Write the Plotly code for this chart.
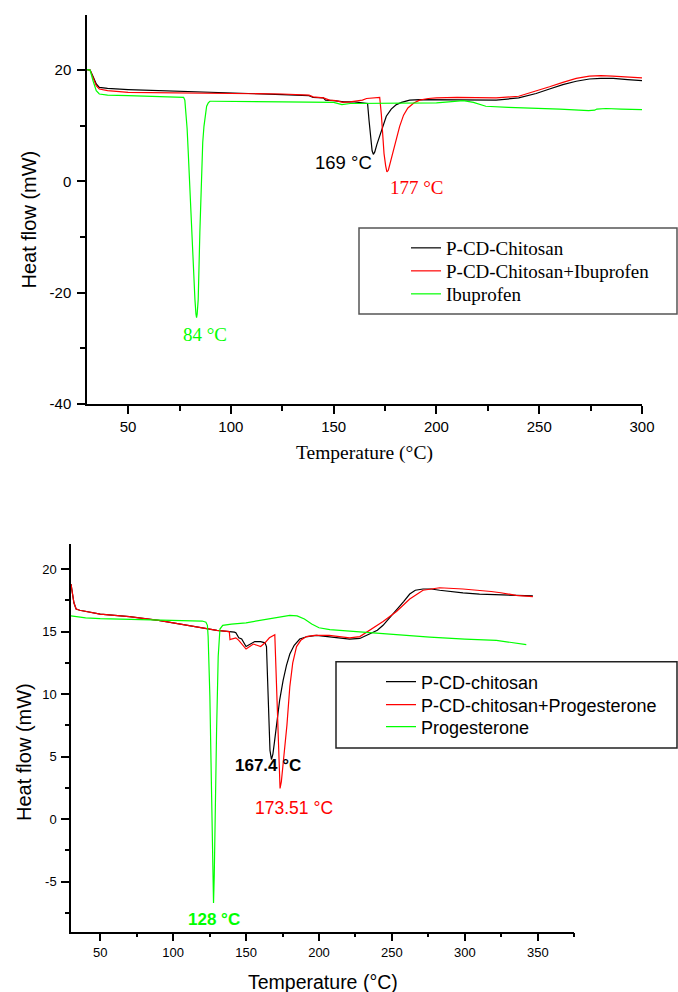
import plotly.graph_objects as go

SANS = "Liberation Sans, Arial, sans-serif"
SERIF = "Liberation Serif, Times New Roman, serif"
GREEN = "#00ff00"

# ---------------- Top chart (Ibuprofen) ----------------
top_black_x = [30, 31.5, 33, 34.5, 36, 40, 50, 75, 100, 125, 138, 140, 145, 146, 150, 155, 160, 163, 165, 166.5,
               167.2, 168.0, 168.7, 169.3, 170, 171, 172.4, 174, 175.6, 178, 180.5, 183, 187, 192, 197, 210, 229,
               240, 248.5, 255, 261.5, 268, 274.4, 280, 286, 293, 300]
top_black_y = [20.1, 20.0, 18.8, 17.5, 16.9, 16.7, 16.5, 16.2, 16.0, 15.6, 15.4, 15.1, 15.0, 14.6, 14.5, 14.3, 14.3,
               14.2, 14.1, 14.0, 11.0, 7.5, 5.5, 4.85, 5.3, 6.6, 8.1, 10.0, 11.7, 13.0, 13.8, 14.2, 14.6, 14.7, 14.7,
               14.7, 14.6, 15.0, 15.8, 16.6, 17.4, 18.0, 18.4, 18.5, 18.5, 18.3, 18.1]

top_red_x = [30, 31.5, 33, 34.5, 36, 40, 50, 75, 100, 125, 138, 140, 145, 148, 151, 154.5, 158, 161, 164, 166, 169,
             172.4, 173.2, 173.8, 174.5, 175.3, 175.9, 176.6, 177.5, 178.8, 180.5, 182.1, 184, 186.1, 189, 191.8, 196,
             200, 210, 229, 240, 248.5, 255, 261.5, 268, 274.4, 280, 285.7, 293, 300]
top_red_y = [20.1, 20.0, 18.6, 17.2, 16.6, 16.3, 16.0, 15.9, 15.9, 15.7, 15.5, 15.2, 15.0, 14.6, 14.5, 14.2, 14.3,
             14.4, 14.6, 14.9, 15.0, 15.1, 12.0, 8.0, 5.0, 2.8, 1.7, 2.0, 3.3, 5.1, 7.5, 9.9, 11.9, 13.2, 14.1, 14.6,
             14.9, 15.0, 15.1, 15.0, 15.3, 16.2, 17.0, 17.8, 18.5, 18.9, 19.0, 18.9, 18.8, 18.6]

top_green_x = [30, 31.5, 33, 34.5, 36, 40, 50, 65, 75, 77.0, 77.6, 78.2, 78.7, 79.2, 80.0, 80.9, 81.7, 82.5, 83.0,
               83.3, 83.6, 84.1, 84.9, 85.7, 86.3, 86.9, 87.5, 88.2, 89.0, 89.8, 91, 93, 100, 125, 150, 154, 158,
               175, 200, 206, 213, 218, 224, 235, 245, 260, 274, 277, 278, 282.5, 290, 300]
top_green_y = [20.1, 20.0, 18.0, 16.3, 15.7, 15.5, 15.4, 15.3, 15.2, 15.1, 14.6, 12.5, 9.5, 5.7, -1.5, -9.2, -15.5,
               -21.2, -23.8, -24.5, -23.8, -21.2, -9.2, 2.7, 7.0, 9.9, 12.0, 13.5, 14.1, 14.4, 14.4, 14.4, 14.4,
               14.3, 14.2, 13.8, 14.0, 14.0, 14.1, 14.3, 14.5, 14.2, 13.5, 13.3, 13.2, 13.0, 12.7, 12.8, 13.0, 13.1,
               13.0, 12.9]

top_names = ["P-CD-Chitosan", "P-CD-Chitosan+Ibuprofen", "Ibuprofen"]
top_yticks = [-40, -20, 0, 20]
top_yticktext = ["-40", "-20", "0", "20"]

# ---------------- Bottom chart (Progesterone) ----------------
bot_black_x = [30, 31, 32, 33.5, 36, 50, 70, 90, 110, 130, 142, 143, 145, 147, 150, 153, 156, 160, 163, 164, 164.8,
               165.6, 166.4, 167.4, 168.4, 169.5, 170.9, 173, 175.4, 177.7, 180, 183, 186.8, 192, 198.3, 207, 221,
               228, 234.8, 240, 243.9, 248.5, 253.1, 258, 262.2, 266, 271.3, 277, 282.7, 290, 298.7, 310, 321.6,
               335, 346.6]
bot_black_y = [18.8, 18.0, 17.3, 16.8, 16.7, 16.4, 16.2, 15.9, 15.5, 15.1, 14.95, 14.9, 14.5, 14.4, 13.8, 14.0, 14.2,
               14.2, 14.1, 13.8, 11.0, 8.0, 5.5, 4.77, 5.2, 6.2, 7.6, 9.5, 11.1, 12.3, 13.2, 13.9, 14.4, 14.6, 14.7,
               14.6, 14.4, 14.45, 14.8, 15.1, 15.5, 16.1, 16.7, 17.4, 18.0, 18.3, 18.4, 18.4, 18.3, 18.2, 18.1, 18.0,
               17.95, 17.9, 17.85]

bot_red_x = [30, 31, 32, 33.5, 36, 50, 70, 90, 110, 130, 138.5, 139, 140, 143, 145, 147.5, 150, 152.5, 155, 157.5,
             160, 163, 166, 169.7, 170.3, 171, 171.7, 172.5, 173.3, 174.2, 175.3, 176.6, 178, 180, 182, 184.6, 187.5,
             191.4, 197, 207, 221, 228, 234.8, 243.9, 253.1, 262.2, 271.3, 282.7, 298.7, 310.2, 318, 324.6, 335,
             346.6]
bot_red_y = [18.8, 18.0, 17.3, 16.8, 16.7, 16.4, 16.2, 15.9, 15.5, 15.1, 15.0, 14.35, 14.4, 14.5, 14.3, 13.9, 13.6,
             13.8, 14.0, 13.9, 13.8, 14.1, 14.5, 14.75, 12.5, 9.5, 6.5, 4.0, 2.45, 3.0, 4.3, 5.8, 7.5, 10.6, 12.5,
             13.8, 14.3, 14.6, 14.7, 14.7, 14.5, 14.6, 15.1, 15.8, 16.6, 17.6, 18.3, 18.5, 18.4, 18.3, 18.2, 18.1,
             17.9, 17.8]

bot_green_x = [30, 40, 50, 75, 100, 120, 122.5, 123.5, 124.0, 125.2, 126.4, 127.2, 127.7, 128.2, 128.6, 129.8, 130.9,
               132.1, 134, 140, 150, 160, 168, 175, 180, 185, 190, 195, 200, 207.4, 230, 250, 275.9, 300, 321.6,
               342.1]
bot_green_y = [16.25, 16.1, 16.03, 15.95, 15.9, 15.84, 15.75, 15.5, 14.6, 9.8, 1.8, -4.0, -6.7, -4.5, -0.9, 7.1, 13.0,
               15.2, 15.5, 15.6, 15.7, 15.9, 16.1, 16.25, 16.3, 16.25, 16.0, 15.6, 15.3, 15.15, 14.95, 14.8, 14.56,
               14.4, 14.3, 13.95]

bot_names = ["P-CD-chitosan", "P-CD-chitosan+Progesterone", "Progesterone"]
bot_yticks = [-5, 0, 5, 10, 15, 20]
bot_yticktext = ["-5", "0", "5", "10", "15", "20"]

colors = ["#000000", "#ff0000", GREEN]

W, H = 678, 992


def px(v):
    return v / W


def py(v):
    return 1 - v / H


fig = go.Figure()

top_rows = [248, 271, 294]
bot_rows = [682, 705, 727]
legend_layout = {}

for i, (xs, ys, nm, c) in enumerate(zip([top_black_x, top_red_x, top_green_x],
                                        [top_black_y, top_red_y, top_green_y], top_names, colors)):
    lid = "legend" if i == 0 else f"legend{i + 1}"
    fig.add_trace(go.Scatter(x=xs, y=ys, name=nm, mode="lines", line=dict(color=c, width=1.2),
                             xaxis="x", yaxis="y", legend=lid))
    legend_layout[lid] = dict(x=px(406), y=py(top_rows[i]), xanchor="left", yanchor="middle",
                              bgcolor="rgba(0,0,0,0)", borderwidth=0,
                              font=dict(family=SERIF, size=19, color="black"))

for i, (xs, ys, nm, c) in enumerate(zip([bot_black_x, bot_red_x, bot_green_x],
                                        [bot_black_y, bot_red_y, bot_green_y], bot_names, colors)):
    lid = f"legend{i + 4}"
    fig.add_trace(go.Scatter(x=xs, y=ys, name=nm, mode="lines", line=dict(color=c, width=1.2),
                             xaxis="x2", yaxis="y2", legend=lid))
    legend_layout[lid] = dict(x=px(381), y=py(bot_rows[i]), xanchor="left", yanchor="middle",
                              bgcolor="rgba(0,0,0,0)", borderwidth=0,
                              font=dict(family=SANS, size=18, color="black"))

axis_common = dict(showline=True, linecolor="black", linewidth=1.5, ticks="outside", tickcolor="black",
                   tickwidth=1.5, showgrid=False, zeroline=False, mirror=False, automargin=False)

fig.update_layout(
    width=W, height=H, margin=dict(l=0, r=0, t=0, b=0, autoexpand=False),
    paper_bgcolor="white", plot_bgcolor="white",
    xaxis=dict(domain=[px(87), px(642)], range=[30, 300], dtick=50, tick0=0, ticklen=8,
               tickfont=dict(family=SANS, size=15, color="black"), anchor="y",
               minor=dict(dtick=25, tick0=0, ticklen=5, ticks="outside", tickcolor="black", tickwidth=1.5),
               **axis_common),
    yaxis=dict(domain=[py(404), py(15)], range=[-40, 29.9], tickmode="array", tickvals=top_yticks,
               ticktext=top_yticktext, ticklen=8, ticklabelstandoff=3,
               tickfont=dict(family=SANS, size=15, color="black"), anchor="x",
               minor=dict(dtick=10, tick0=0, ticklen=5, ticks="outside", tickcolor="black", tickwidth=1.5),
               **axis_common),
    xaxis2=dict(domain=[px(71), px(574.3)], range=[30, 375], dtick=50, tick0=0, ticklen=8,
                tickfont=dict(family=SANS, size=13, color="black"), anchor="y2",
                minor=dict(dtick=25, tick0=0, ticklen=4, ticks="outside", tickcolor="black", tickwidth=1.5),
                **axis_common),
    yaxis2=dict(domain=[py(931.7), py(544)], range=[-9, 22], tickmode="array", tickvals=bot_yticks,
                ticktext=bot_yticktext, ticklen=8, ticklabelstandoff=2,
                tickfont=dict(family=SANS, size=13, color="black"), anchor="x2",
                minor=dict(dtick=2.5, tick0=0, ticklen=4.5, ticks="outside", tickcolor="black", tickwidth=1.5),
                **axis_common),
    showlegend=True,
    **legend_layout,
)

# legend boxes
fig.add_shape(type="rect", xref="paper", yref="paper", x0=px(359), x1=px(677), y0=py(314), y1=py(228),
              line=dict(color="#555555", width=1.5))
fig.add_shape(type="rect", xref="paper", yref="paper", x0=px(336), x1=px(677), y0=py(748), y1=py(661.7),
              line=dict(color="#222222", width=1.5))

# axis titles
ann = dict(showarrow=False, xanchor="center", yanchor="middle")
fig.add_annotation(text="Heat flow (mW)", xref="paper", yref="paper", x=px(28.5), y=py(220), textangle=-90,
                   font=dict(family=SANS, size=20, color="black"), **ann)
fig.add_annotation(text="Temperature (°C)", xref="paper", yref="paper", x=px(364), y=py(453),
                   font=dict(family=SERIF, size=19.5, color="black"), **ann)
fig.add_annotation(text="Heat flow (mW)", xref="paper", yref="paper", x=px(23.3), y=py(751.7), textangle=-90,
                   font=dict(family=SANS, size=20, color="black"), **ann)
fig.add_annotation(text="Temperature (°C)", xref="paper", yref="paper", x=px(322.5), y=py(981.7),
                   font=dict(family=SANS, size=19.5, color="black"), **ann)

# peak labels
fig.add_annotation(text="169 °C", xref="x", yref="y", x=155.0, y=3.36,
                   font=dict(family=SANS, size=18.5, color="black"), **ann)
fig.add_annotation(text="177 °C", xref="x", yref="y", x=190.5, y=-1.02,
                   font=dict(family=SERIF, size=19, color="#ff0000"), **ann)
fig.add_annotation(text="84 °C", xref="x", yref="y", x=87.4, y=-27.6,
                   font=dict(family=SERIF, size=19, color=GREEN), **ann)
fig.add_annotation(text="<b>167.4 °C</b>", xref="x2", yref="y2", x=164.9, y=4.31,
                   font=dict(family=SANS, size=17, color="black"), **ann)
fig.add_annotation(text="173.51 °C", xref="x2", yref="y2", x=182.9, y=0.90,
                   font=dict(family=SANS, size=17.5, color="#ff0000"), **ann)
fig.add_annotation(text="<b>128 °C</b>", xref="x2", yref="y2", x=128.3, y=-7.99,
                   font=dict(family=SANS, size=17, color=GREEN), **ann)

fig.write_html("out.html")
